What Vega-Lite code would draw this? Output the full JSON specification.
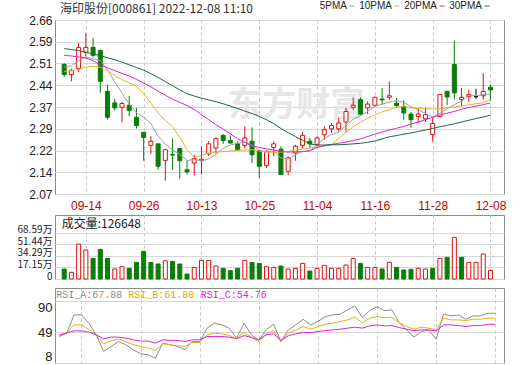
{
  "$schema": "https://vega.github.io/schema/vega-lite/v6.json",
  "autosize": {"type": "pad"},
  "padding": {"left": 16, "top": 1, "right": 2, "bottom": 0},
  "background": "#ffffff",
  "config": {
    "view": {"stroke": "#8c8c8c", "strokeWidth": 1},
    "axis": {"title": null, "ticks": false, "domain": false, "gridColor": "#d6d6d6", "gridWidth": 1, "labelFont": "Liberation Sans", "labelColor": "#222222", "labelFontSize": 12, "labelOverlap": false, "labelPadding": 3},
    "line": {"strokeWidth": 1}
  },
  "datasets": {
    "k": [
      {"i":0,"date":"09-08","o":2.509,"h":2.514,"l":2.466,"c":2.475,"5PMA":2.500,"10PMA":2.486,"20PMA":2.540,"30PMA":2.563,"vol":14.8,"vdir":"down","ra":43.0,"rb":44.3,"rc":45.3},
      {"i":1,"date":"09-09","o":2.475,"h":2.495,"l":2.452,"c":2.489,"5PMA":2.505,"10PMA":2.488,"20PMA":2.538,"30PMA":2.560,"vol":9.9,"vdir":"up","ra":47.5,"rb":47.5,"rc":47.5},
      {"i":2,"date":"09-13","o":2.495,"h":2.582,"l":2.483,"c":2.567,"5PMA":2.522,"10PMA":2.493,"20PMA":2.535,"30PMA":2.556,"vol":51.7,"vdir":"up","ra":71.6,"rb":58.4,"rc":50.5},
      {"i":3,"date":"09-14","o":2.550,"h":2.616,"l":2.537,"c":2.567,"5PMA":2.535,"10PMA":2.500,"20PMA":2.531,"30PMA":2.551,"vol":42.9,"vdir":"up","ra":71.6,"rb":58.4,"rc":50.5},
      {"i":4,"date":"09-15","o":2.567,"h":2.599,"l":2.533,"c":2.540,"5PMA":2.528,"10PMA":2.503,"20PMA":2.522,"30PMA":2.545,"vol":30.5,"vdir":"down","ra":60.6,"rb":52.7,"rc":48.8},
      {"i":5,"date":"09-16","o":2.557,"h":2.559,"l":2.413,"c":2.452,"5PMA":2.523,"10PMA":2.500,"20PMA":2.507,"30PMA":2.539,"vol":43.9,"vdir":"down","ra":45.3,"rb":45.3,"rc":45.3},
      {"i":6,"date":"09-19","o":2.418,"h":2.441,"l":2.322,"c":2.330,"5PMA":2.491,"10PMA":2.488,"20PMA":2.498,"30PMA":2.532,"vol":30.5,"vdir":"down","ra":23.3,"rb":33.4,"rc":40.0},
      {"i":7,"date":"09-20","o":2.379,"h":2.393,"l":2.353,"c":2.362,"5PMA":2.450,"10PMA":2.472,"20PMA":2.488,"30PMA":2.525,"vol":14.8,"vdir":"up","ra":29.9,"rb":37.4,"rc":42.2},
      {"i":8,"date":"09-21","o":2.364,"h":2.382,"l":2.313,"c":2.377,"5PMA":2.412,"10PMA":2.458,"20PMA":2.479,"30PMA":2.517,"vol":18.2,"vdir":"up","ra":36.4,"rb":39.6,"rc":42.2},
      {"i":9,"date":"09-22","o":2.371,"h":2.403,"l":2.333,"c":2.353,"5PMA":2.375,"10PMA":2.447,"20PMA":2.470,"30PMA":2.508,"vol":15.8,"vdir":"down","ra":32.1,"rb":36.4,"rc":40.9},
      {"i":10,"date":"09-23","o":2.330,"h":2.362,"l":2.292,"c":2.302,"5PMA":2.345,"10PMA":2.435,"20PMA":2.459,"30PMA":2.499,"vol":24.6,"vdir":"down","ra":25.5,"rb":32.1,"rc":38.7},
      {"i":11,"date":"09-26","o":2.279,"h":2.280,"l":2.183,"c":2.262,"5PMA":2.331,"10PMA":2.410,"20PMA":2.446,"30PMA":2.490,"vol":40.9,"vdir":"down","ra":20.3,"rb":29.9,"rc":37.0},
      {"i":12,"date":"09-27","o":2.235,"h":2.266,"l":2.206,"c":2.249,"5PMA":2.309,"10PMA":2.378,"20PMA":2.433,"30PMA":2.478,"vol":24.6,"vdir":"down","ra":18.9,"rb":27.7,"rc":37.0},
      {"i":13,"date":"09-28","o":2.240,"h":2.241,"l":2.153,"c":2.164,"5PMA":2.266,"10PMA":2.345,"20PMA":2.419,"30PMA":2.465,"vol":22.2,"vdir":"down","ra":14.5,"rb":24.6,"rc":34.3},
      {"i":14,"date":"09-29","o":2.184,"h":2.221,"l":2.115,"c":2.220,"5PMA":2.239,"10PMA":2.320,"20PMA":2.405,"30PMA":2.451,"vol":27.1,"vdir":"up","ra":34.3,"rb":33.4,"rc":38.7},
      {"i":15,"date":"09-30","o":2.204,"h":2.259,"l":2.151,"c":2.202,"5PMA":2.220,"10PMA":2.298,"20PMA":2.391,"30PMA":2.437,"vol":26.1,"vdir":"down","ra":32.1,"rb":32.1,"rc":37.9},
      {"i":16,"date":"10-10","o":2.224,"h":2.226,"l":2.122,"c":2.183,"5PMA":2.204,"10PMA":2.262,"20PMA":2.381,"30PMA":2.423,"vol":22.2,"vdir":"down","ra":29.9,"rb":30.8,"rc":37.9},
      {"i":17,"date":"10-11","o":2.152,"h":2.183,"l":2.136,"c":2.145,"5PMA":2.183,"10PMA":2.220,"20PMA":2.370,"30PMA":2.410,"vol":7.4,"vdir":"down","ra":25.5,"rb":29.9,"rc":36.4},
      {"i":18,"date":"10-12","o":2.175,"h":2.203,"l":2.133,"c":2.190,"5PMA":2.188,"10PMA":2.195,"20PMA":2.357,"30PMA":2.402,"vol":17.2,"vdir":"up","ra":36.4,"rb":35.1,"rc":38.7},
      {"i":19,"date":"10-13","o":2.183,"h":2.232,"l":2.136,"c":2.188,"5PMA":2.182,"10PMA":2.200,"20PMA":2.339,"30PMA":2.395,"vol":27.6,"vdir":"up","ra":36.4,"rb":35.1,"rc":38.7},
      {"i":20,"date":"10-14","o":2.206,"h":2.249,"l":2.198,"c":2.240,"5PMA":2.189,"10PMA":2.209,"20PMA":2.322,"30PMA":2.389,"vol":27.6,"vdir":"up","ra":54.1,"rb":45.3,"rc":43.0},
      {"i":21,"date":"10-17","o":2.226,"h":2.262,"l":2.206,"c":2.258,"5PMA":2.204,"10PMA":2.212,"20PMA":2.305,"30PMA":2.383,"vol":19.2,"vdir":"up","ra":60.6,"rb":47.5,"rc":43.0},
      {"i":22,"date":"10-18","o":2.269,"h":2.273,"l":2.240,"c":2.251,"5PMA":2.225,"10PMA":2.214,"20PMA":2.290,"30PMA":2.376,"vol":15.8,"vdir":"down","ra":58.5,"rb":46.6,"rc":43.0},
      {"i":23,"date":"10-19","o":2.251,"h":2.269,"l":2.241,"c":2.243,"5PMA":2.236,"10PMA":2.216,"20PMA":2.274,"30PMA":2.368,"vol":12.3,"vdir":"down","ra":54.1,"rb":44.3,"rc":42.2},
      {"i":24,"date":"10-20","o":2.240,"h":2.249,"l":2.217,"c":2.220,"5PMA":2.242,"10PMA":2.218,"20PMA":2.257,"30PMA":2.360,"vol":15.8,"vdir":"down","ra":40.9,"rb":40.9,"rc":40.0},
      {"i":25,"date":"10-21","o":2.235,"h":2.300,"l":2.224,"c":2.260,"5PMA":2.246,"10PMA":2.219,"20PMA":2.245,"30PMA":2.351,"vol":27.6,"vdir":"up","ra":60.6,"rb":48.3,"rc":44.3},
      {"i":26,"date":"10-24","o":2.249,"h":2.296,"l":2.175,"c":2.203,"5PMA":2.235,"10PMA":2.220,"20PMA":2.234,"30PMA":2.343,"vol":24.6,"vdir":"down","ra":45.3,"rb":42.2,"rc":41.7},
      {"i":27,"date":"10-25","o":2.217,"h":2.219,"l":2.124,"c":2.164,"5PMA":2.218,"10PMA":2.216,"20PMA":2.228,"30PMA":2.333,"vol":23.0,"vdir":"down","ra":38.0,"rb":35.8,"rc":38.7},
      {"i":28,"date":"10-26","o":2.167,"h":2.217,"l":2.158,"c":2.215,"5PMA":2.212,"10PMA":2.212,"20PMA":2.223,"30PMA":2.322,"vol":18.2,"vdir":"up","ra":51.8,"rb":46.6,"rc":45.3},
      {"i":29,"date":"10-27","o":2.228,"h":2.249,"l":2.198,"c":2.240,"5PMA":2.216,"10PMA":2.211,"20PMA":2.219,"30PMA":2.308,"vol":17.2,"vdir":"up","ra":59.3,"rb":50.9,"rc":46.6},
      {"i":30,"date":"10-28","o":2.222,"h":2.232,"l":2.134,"c":2.136,"5PMA":2.192,"10PMA":2.212,"20PMA":2.214,"30PMA":2.292,"vol":19.2,"vdir":"down","ra":36.4,"rb":36.4,"rc":37.9},
      {"i":31,"date":"10-31","o":2.147,"h":2.198,"l":2.133,"c":2.192,"5PMA":2.189,"10PMA":2.215,"20PMA":2.212,"30PMA":2.278,"vol":14.8,"vdir":"up","ra":51.8,"rb":47.5,"rc":44.0},
      {"i":32,"date":"11-01","o":2.209,"h":2.237,"l":2.183,"c":2.232,"5PMA":2.203,"10PMA":2.218,"20PMA":2.213,"30PMA":2.265,"vol":15.8,"vdir":"up","ra":58.4,"rb":51.8,"rc":46.6},
      {"i":33,"date":"11-02","o":2.235,"h":2.280,"l":2.224,"c":2.269,"5PMA":2.214,"10PMA":2.222,"20PMA":2.214,"30PMA":2.252,"vol":23.1,"vdir":"up","ra":65.9,"rb":56.2,"rc":48.3},
      {"i":34,"date":"11-03","o":2.249,"h":2.260,"l":2.226,"c":2.240,"5PMA":2.214,"10PMA":2.226,"20PMA":2.217,"30PMA":2.240,"vol":11.8,"vdir":"down","ra":58.4,"rb":52.7,"rc":48.3},
      {"i":35,"date":"11-04","o":2.237,"h":2.265,"l":2.232,"c":2.260,"5PMA":2.239,"10PMA":2.229,"20PMA":2.228,"30PMA":2.236,"vol":15.8,"vdir":"up","ra":62.8,"rb":56.2,"rc":49.6},
      {"i":36,"date":"11-07","o":2.271,"h":2.300,"l":2.254,"c":2.288,"5PMA":2.258,"10PMA":2.233,"20PMA":2.234,"30PMA":2.236,"vol":20.2,"vdir":"up","ra":69.4,"rb":59.3,"rc":50.9},
      {"i":37,"date":"11-08","o":2.291,"h":2.311,"l":2.277,"c":2.302,"5PMA":2.272,"10PMA":2.237,"20PMA":2.238,"30PMA":2.237,"vol":15.8,"vdir":"up","ra":71.6,"rb":60.6,"rc":51.8},
      {"i":38,"date":"11-09","o":2.291,"h":2.328,"l":2.282,"c":2.311,"5PMA":2.280,"10PMA":2.258,"20PMA":2.242,"30PMA":2.237,"vol":15.8,"vdir":"up","ra":72.5,"rb":62.8,"rc":52.7},
      {"i":39,"date":"11-10","o":2.314,"h":2.362,"l":2.282,"c":2.350,"5PMA":2.302,"10PMA":2.280,"20PMA":2.246,"30PMA":2.238,"vol":20.7,"vdir":"up","ra":78.2,"rb":65.0,"rc":54.1},
      {"i":40,"date":"11-11","o":2.364,"h":2.398,"l":2.353,"c":2.371,"5PMA":2.324,"10PMA":2.298,"20PMA":2.251,"30PMA":2.240,"vol":30.5,"vdir":"up","ra":83.4,"rb":68.5,"rc":55.4},
      {"i":41,"date":"11-14","o":2.390,"h":2.398,"l":2.337,"c":2.341,"5PMA":2.335,"10PMA":2.313,"20PMA":2.257,"30PMA":2.242,"vol":23.1,"vdir":"down","ra":68.5,"rb":61.5,"rc":54.1},
      {"i":42,"date":"11-15","o":2.362,"h":2.384,"l":2.341,"c":2.375,"5PMA":2.350,"10PMA":2.327,"20PMA":2.265,"30PMA":2.245,"vol":17.2,"vdir":"up","ra":77.3,"rb":67.2,"rc":57.1},
      {"i":43,"date":"11-16","o":2.371,"h":2.400,"l":2.367,"c":2.398,"5PMA":2.367,"10PMA":2.338,"20PMA":2.273,"30PMA":2.250,"vol":17.2,"vdir":"up","ra":82.5,"rb":69.4,"rc":58.4},
      {"i":44,"date":"11-17","o":2.392,"h":2.429,"l":2.373,"c":2.389,"5PMA":2.375,"10PMA":2.348,"20PMA":2.280,"30PMA":2.257,"vol":14.8,"vdir":"down","ra":77.3,"rb":68.0,"rc":57.1},
      {"i":45,"date":"11-18","o":2.398,"h":2.451,"l":2.389,"c":2.403,"5PMA":2.381,"10PMA":2.356,"20PMA":2.287,"30PMA":2.264,"vol":24.6,"vdir":"up","ra":78.2,"rb":68.5,"rc":57.5},
      {"i":46,"date":"11-21","o":2.378,"h":2.396,"l":2.362,"c":2.370,"5PMA":2.387,"10PMA":2.365,"20PMA":2.293,"30PMA":2.268,"vol":17.2,"vdir":"down","ra":61.5,"rb":61.5,"rc":54.9},
      {"i":47,"date":"11-22","o":2.367,"h":2.387,"l":2.322,"c":2.345,"5PMA":2.381,"10PMA":2.366,"20PMA":2.299,"30PMA":2.273,"vol":13.3,"vdir":"down","ra":51.8,"rb":56.2,"rc":52.7},
      {"i":48,"date":"11-23","o":2.341,"h":2.348,"l":2.294,"c":2.322,"5PMA":2.366,"10PMA":2.362,"20PMA":2.307,"30PMA":2.277,"vol":14.3,"vdir":"down","ra":42.2,"rb":52.7,"rc":50.9},
      {"i":49,"date":"11-24","o":2.333,"h":2.362,"l":2.311,"c":2.341,"5PMA":2.356,"10PMA":2.360,"20PMA":2.314,"30PMA":2.282,"vol":15.8,"vdir":"up","ra":49.6,"rb":55.4,"rc":51.8},
      {"i":50,"date":"11-25","o":2.325,"h":2.362,"l":2.314,"c":2.339,"5PMA":2.343,"10PMA":2.359,"20PMA":2.322,"30PMA":2.287,"vol":14.8,"vdir":"up","ra":51.8,"rb":54.1,"rc":51.8},
      {"i":51,"date":"11-28","o":2.272,"h":2.328,"l":2.248,"c":2.309,"5PMA":2.331,"10PMA":2.358,"20PMA":2.330,"30PMA":2.292,"vol":15.8,"vdir":"down","ra":39.6,"rb":51.8,"rc":50.5},
      {"i":52,"date":"11-29","o":2.333,"h":2.409,"l":2.330,"c":2.407,"5PMA":2.344,"10PMA":2.359,"20PMA":2.338,"30PMA":2.298,"vol":30.5,"vdir":"up","ra":72.9,"rb":67.2,"rc":58.4},
      {"i":53,"date":"11-30","o":2.418,"h":2.420,"l":2.371,"c":2.399,"5PMA":2.359,"10PMA":2.362,"20PMA":2.344,"30PMA":2.303,"vol":32.0,"vdir":"down","ra":70.3,"rb":65.0,"rc":58.4},
      {"i":54,"date":"12-01","o":2.509,"h":2.590,"l":2.390,"c":2.413,"5PMA":2.373,"10PMA":2.365,"20PMA":2.350,"30PMA":2.308,"vol":61.6,"vdir":"up","ra":71.6,"rb":65.0,"rc":57.5},
      {"i":55,"date":"12-02","o":2.390,"h":2.429,"l":2.367,"c":2.398,"5PMA":2.385,"10PMA":2.369,"20PMA":2.357,"30PMA":2.314,"vol":32.0,"vdir":"down","ra":65.9,"rb":64.1,"rc":56.2},
      {"i":56,"date":"12-05","o":2.400,"h":2.424,"l":2.382,"c":2.407,"5PMA":2.405,"10PMA":2.372,"20PMA":2.363,"30PMA":2.320,"vol":24.6,"vdir":"up","ra":70.3,"rb":65.9,"rc":57.5},
      {"i":57,"date":"12-06","o":2.400,"h":2.427,"l":2.393,"c":2.400,"5PMA":2.403,"10PMA":2.376,"20PMA":2.368,"30PMA":2.326,"vol":24.6,"vdir":"up","ra":70.3,"rb":65.9,"rc":57.5},
      {"i":58,"date":"12-07","o":2.403,"h":2.480,"l":2.390,"c":2.418,"5PMA":2.407,"10PMA":2.380,"20PMA":2.373,"30PMA":2.331,"vol":37.0,"vdir":"up","ra":73.8,"rb":67.2,"rc":59.3},
      {"i":59,"date":"12-08","o":2.432,"h":2.441,"l":2.387,"c":2.423,"5PMA":2.409,"10PMA":2.390,"20PMA":2.379,"30PMA":2.337,"vol":12.66,"vdir":"up","ra":73.8,"rb":67.2,"rc":59.3}
    ]
  },
  "spacing": 21,
  "bounds": "flush",
  "vconcat": [
    {
      "width": 449,
      "height": 174,
      "data": {"name": "k"},
      "encoding": {
        "x": {"field": "i", "type": "quantitative", "scale": {"domain": [-0.58, 60.18], "nice": false, "zero": false},
          "axis": {"values": [3, 11, 19, 27, 35, 43, 51, 59], "tickCount": 20, "labelExpr": "['09-14','09-26','10-13','10-25','11-04','11-16','11-28','12-08'][round((datum.value-3)/8)]", "grid": true, "gridDash": [3, 3], "gridColor": "#c4c4c4", "labelColor": "#c80000", "labelFont": "Liberation Sans Narrow, Liberation Sans", "labelFontSize": 12, "labelPadding": 6, "labelFlush": false, "labelOverlap": false}}
      },
      "layer": [
        {
          "transform": [{"filter": "datum.i == 0"}],
          "mark": {"type": "text", "align": "left", "baseline": "middle", "font": "Noto Sans CJK SC", "fontSize": 34, "fontWeight": "bold", "color": "#e6e6e6"},
          "encoding": {"x": {"datum": 22.7}, "y": {"datum": 2.368}, "text": {"value": "东方财富"}}
        },
        {
          "mark": {"type": "rule", "strokeWidth": 1},
          "encoding": {
            "y": {"field": "l", "type": "quantitative", "scale": {"domain": [2.07, 2.66], "nice": false, "zero": false},
              "axis": {"values": [2.07, 2.14375, 2.2175, 2.29125, 2.365, 2.43875, 2.5125, 2.58625, 2.66], "tickCount": 20, "labelExpr": "format(datum.value + 0.0001, '.2f')", "grid": true, "labelOverlap": false}},
            "y2": {"field": "h"},
            "color": {"condition": [{"test": "datum.c > datum.o", "value": "#e01010"}, {"test": "datum.c < datum.o", "value": "#0a7d0a"}], "value": "#000000"}
          }
        },
        {
          "mark": {"type": "bar", "width": 4, "strokeWidth": 1, "orient": "vertical"},
          "encoding": {
            "y": {"field": "o", "type": "quantitative"},
            "y2": {"field": "c"},
            "fill": {"condition": {"test": "datum.c < datum.o", "value": "#0a7d0a"}, "value": "#ffffff"},
            "stroke": {"condition": [{"test": "datum.c > datum.o", "value": "#e01010"}, {"test": "datum.c < datum.o", "value": "#0a7d0a"}], "value": "#000000"}
          }
        },
        {
          "transform": [{"fold": ["5PMA", "10PMA", "20PMA", "30PMA"], "as": ["series", "value"]}],
          "mark": {"type": "line", "strokeWidth": 1},
          "encoding": {
            "y": {"field": "value", "type": "quantitative"},
            "color": {"field": "series", "type": "nominal",
              "scale": {"domain": ["5PMA", "10PMA", "20PMA", "30PMA"], "range": ["#a0a0a0", "#e8b030", "#e020e0", "#1a6b40"]},
              "legend": {"orient": "none", "legendX": 292, "legendY": -19, "direction": "horizontal", "title": null, "padding": 0, "symbolType": "M-1,0H1", "symbolStrokeWidth": 3, "symbolSize": 25, "labelFont": "Liberation Sans Narrow, Liberation Sans", "labelFontSize": 10, "labelColor": "#222222", "columnPadding": 2, "labelAlign": "right", "labelOffset": -10}}
          }
        },
        {
          "transform": [{"filter": "datum.i == 0"}],
          "mark": {"type": "text", "align": "left", "baseline": "middle", "font": "Noto Sans CJK SC", "fontSize": 12, "color": "#333333"},
          "encoding": {"x": {"datum": -0.58}, "y": {"datum": 2.6960}, "text": {"value": "海印股份[000861] 2022-12-08 11:10"}}
        }
      ]
    },
    {
      "spacing": 9,
      "bounds": "flush",
      "vconcat": [
        {
          "width": 449,
          "height": 64,
          "data": {"name": "k"},
          "encoding": {
            "x": {"field": "i", "type": "quantitative", "scale": {"domain": [-0.58, 60.18], "nice": false, "zero": false},
              "axis": {"values": [3, 11, 19, 27, 35, 43, 51, 59], "tickCount": 20, "labels": false, "grid": true, "gridDash": [3, 3], "gridColor": "#c4c4c4"}}
          },
          "layer": [
            {
              "mark": {"type": "bar", "width": 4, "strokeWidth": 1, "orient": "vertical"},
              "encoding": {
                "y": {"field": "vol", "type": "quantitative", "scale": {"domain": [0, 94.8], "nice": false},
                  "axis": {"values": [0, 17.15, 34.29, 51.44, 68.59], "tickCount": 20, "labelExpr": "datum.value == 0 ? '0' : format(datum.value, '.2f') + '万'", "labelFont": "Liberation Sans Narrow, Noto Sans CJK SC", "labelFontSize": 10, "labelBaseline": "alphabetic", "grid": true, "labelOverlap": false}},
                "fill": {"condition": {"test": "datum.vdir == 'up'", "value": "#ffffff"}, "value": "#0a7d0a"},
                "stroke": {"condition": {"test": "datum.vdir == 'up'", "value": "#e01010"}, "value": "#0a7d0a"}
              }
            },
            {
              "transform": [{"filter": "datum.i == 0"}],
              "mark": {"type": "text", "align": "left", "baseline": "middle", "font": "Noto Sans CJK SC", "fontSize": 12, "color": "#222222"},
              "encoding": {"x": {"datum": -0.35}, "y": {"datum": 81.5}, "text": {"value": "成交量:126648"}}
            }
          ]
        },
        {
          "width": 449,
          "height": 75,
          "data": {"name": "k"},
          "encoding": {
            "x": {"field": "i", "type": "quantitative", "scale": {"domain": [-0.58, 60.18], "nice": false, "zero": false},
              "axis": {"values": [3, 11, 19, 27, 35, 43, 51, 59], "tickCount": 20, "labels": false, "grid": true, "gridDash": [3, 3], "gridColor": "#c4c4c4"}}
          },
          "layer": [
            {
              "transform": [{"fold": ["ra", "rb", "rc"], "as": ["rs", "rv"]}],
              "mark": {"type": "line", "strokeWidth": 1},
              "encoding": {
                "y": {"field": "rv", "type": "quantitative", "scale": {"domain": [8, 107.2], "nice": false, "zero": false},
                  "axis": {"values": [8, 49, 90], "tickCount": 20, "grid": true, "labelFontSize": 13, "labelOverlap": false, "labelBaseline": {"condition": [{"test": "datum.value == 90", "value": "top"}, {"test": "datum.value == 8", "value": "bottom"}], "value": "middle"}}},
                "stroke": {"field": "rs", "type": "nominal", "scale": {"domain": ["ra", "rb", "rc"], "range": ["#8c8c8c", "#e8b010", "#e020e0"]}, "legend": null}
              }
            },
            {
              "transform": [{"filter": "datum.i == 0"}],
              "mark": {"type": "text", "align": "left", "baseline": "middle", "font": "Liberation Mono", "fontSize": 10, "color": "#8c8c8c"},
              "encoding": {"x": {"datum": -0.4}, "y": {"datum": 98}, "text": {"value": "RSI_A:67.88"}}
            },
            {
              "transform": [{"filter": "datum.i == 0"}],
              "mark": {"type": "text", "align": "left", "baseline": "middle", "font": "Liberation Mono", "fontSize": 10, "color": "#e0a800"},
              "encoding": {"x": {"datum": 9.34}, "y": {"datum": 98}, "text": {"value": "RSI_B:61.80"}}
            },
            {
              "transform": [{"filter": "datum.i == 0"}],
              "mark": {"type": "text", "align": "left", "baseline": "middle", "font": "Liberation Mono", "fontSize": 10, "color": "#e020e0"},
              "encoding": {"x": {"datum": 19.13}, "y": {"datum": 98}, "text": {"value": "RSI_C:54.76"}}
            }
          ]
        }
      ]
    }
  ]
}
